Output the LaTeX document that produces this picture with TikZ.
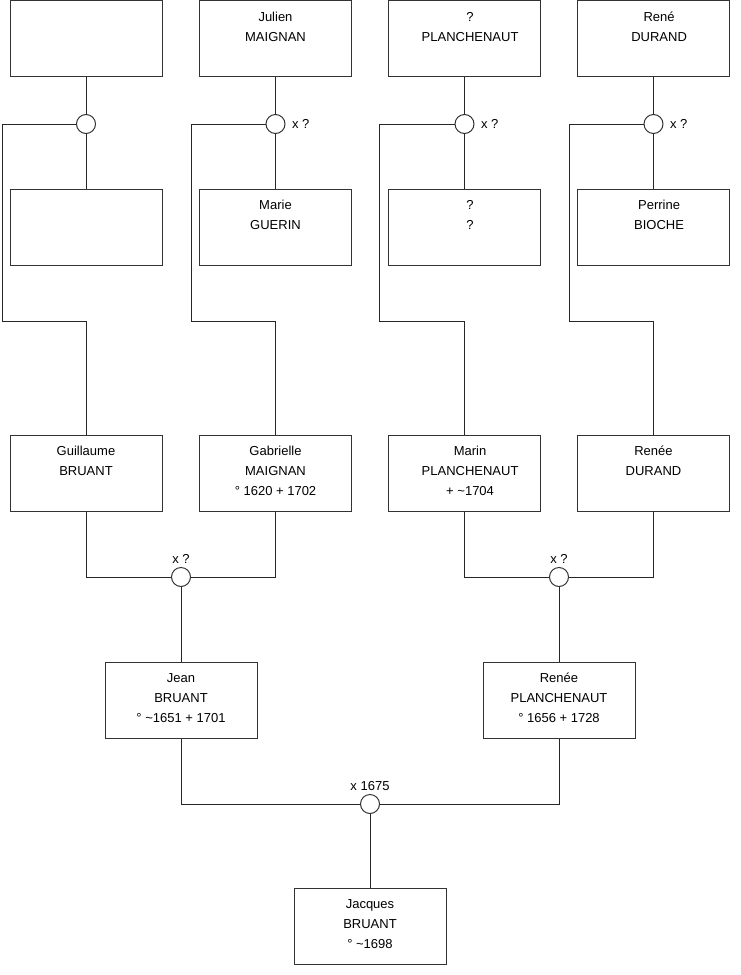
\documentclass[tikz,border=0pt]{standalone}
\usepackage{fontspec}
\setmainfont{Liberation Sans}
\newcommand{\pbox}[1]{\parbox[c][57pt][t]{113pt}{\centering\rule{0pt}{15.6pt}#1}}
\newcommand{\pboxr}[1]{\hspace*{4.2pt}\pbox{#1}\hspace*{-4.2pt}}
\begin{document}
\begin{tikzpicture}[x=0.75pt,y=-0.75pt,
  line width=0.75pt,
  every node/.style={font=\fontsize{9.75}{15}\selectfont},
  person/.style={draw=black!80, fill=white, inner sep=0pt, minimum width=114pt, minimum height=57pt},
  union/.style={draw=black!80, fill=white, circle, inner sep=0pt, minimum size=14.25pt},
  lbl/.style={inner sep=0pt},
  conn/.style={draw=black!85}]
\useasboundingbox (0,0) rectangle (740,975);
% row 1
\node[person] (a1) at (86,38.5) {\pbox{}};
\node[person] (a2) at (275.5,38.5) {\pbox{Julien\\MAIGNAN}};
\node[person] (a3) at (464.5,38.5) {\pboxr{?\\PLANCHENAUT}};
\node[person] (a4) at (653.5,38.5) {\pboxr{René\\DURAND}};
% circles row 1
\node[union] (u1) at (86,124) {};
\node[union] (u2) at (275.5,124) {};
\node[union] (u3) at (464.5,124) {};
\node[union] (u4) at (653.5,124) {};
\node[lbl,anchor=west] (l2) at ([xshift=4.5pt]u2.east) {x ?};
\node[lbl,anchor=west] (l3) at ([xshift=4.5pt]u3.east) {x ?};
\node[lbl,anchor=west] (l4) at ([xshift=4.5pt]u4.east) {x ?};
% row 2
\node[person] (b1) at (86,227) {\pbox{}};
\node[person] (b2) at (275.5,227) {\pbox{Marie\\GUERIN}};
\node[person] (b3) at (464.5,227) {\pboxr{?\\?}};
\node[person] (b4) at (653.5,227) {\pboxr{Perrine\\BIOCHE}};
% row 3
\node[person] (c1) at (86,473) {\pbox{Guillaume\\BRUANT}};
\node[person] (c2) at (275.5,473) {\pbox{Gabrielle\\MAIGNAN\\° 1620 + 1702}};
\node[person] (c3) at (464.5,473) {\pboxr{Marin\\PLANCHENAUT\\+ \char126 1704}};
\node[person] (c4) at (653.5,473) {\pbox{Renée\\DURAND}};
% circles row 3
\node[union] (v1) at (181,577) {};
\node[union] (v2) at (559,577) {};
\node[lbl] (m1) at (181,559) {x ?};
\node[lbl] (m2) at (559,559) {x ?};
% row 4
\node[person] (d1) at (181,700) {\pbox{Jean\\BRUANT\\° \char126 1651 + 1701}};
\node[person] (d2) at (559,700) {\pbox{Renée\\PLANCHENAUT\\° 1656 + 1728}};
\node[union] (w) at (370,804) {};
\node[lbl] (mw) at (370,786) {x 1675};
% row 5
\node[person] (e) at (370,926) {\pbox{Jacques\\BRUANT\\° \char126 1698}};
% corner coordinates
\coordinate (k1) at (2,321);
\coordinate (k2) at (191,321);
\coordinate (k3) at (379,321);
\coordinate (k4) at (569,321);
% connectors
\draw[conn] (a1.south) -- (u1.north);
\draw[conn] (u1.south) -- (b1.north);
\draw[conn] (a2.south) -- (u2.north);
\draw[conn] (u2.south) -- (b2.north);
\draw[conn] (a3.south) -- (u3.north);
\draw[conn] (u3.south) -- (b3.north);
\draw[conn] (a4.south) -- (u4.north);
\draw[conn] (u4.south) -- (b4.north);
\draw[conn] (u1.west) -| (k1) -| (c1.north);
\draw[conn] (u2.west) -| (k2) -| (c2.north);
\draw[conn] (u3.west) -| (k3) -| (c3.north);
\draw[conn] (u4.west) -| (k4) -| (c4.north);
\draw[conn] (c1.south) |- (v1.west);
\draw[conn] (c2.south) |- (v1.east);
\draw[conn] (c3.south) |- (v2.west);
\draw[conn] (c4.south) |- (v2.east);
\draw[conn] (v1.south) -- (d1.north);
\draw[conn] (v2.south) -- (d2.north);
\draw[conn] (d1.south) |- (w.west);
\draw[conn] (d2.south) |- (w.east);
\draw[conn] (w.south) -- (e.north);
\end{tikzpicture}
\end{document}
